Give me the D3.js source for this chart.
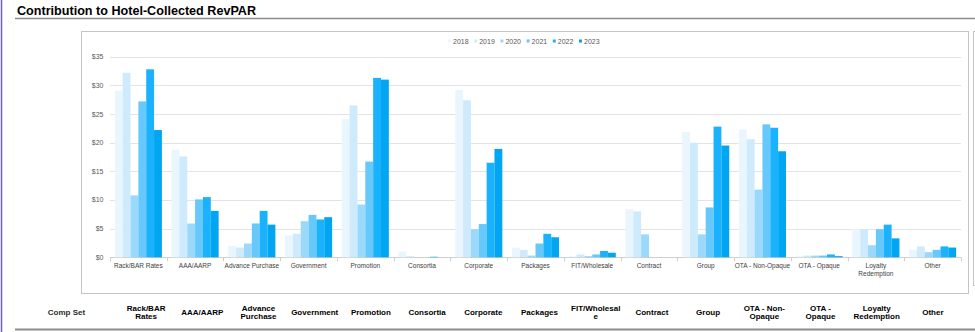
<!DOCTYPE html>
<html>
<head>
<meta charset="utf-8">
<script src="https://cdn.jsdelivr.net/npm/d3@7"></script>
<style>
  body { margin: 0; background: #fff; }
  svg { display: block; font-family: Arial, "Liberation Sans", sans-serif; }
</style>
</head>
<body>
<svg id="chart" width="975" height="332"></svg>
<script>
// Chart data
const categories = ['Rack/BAR Rates', 'AAA/AARP', 'Advance Purchase', 'Government', 'Promotion',
    'Consortia', 'Corporate', 'Packages', 'FIT/Wholesale', 'Contract', 'Group',
    'OTA - Non-Opaque', 'OTA - Opaque', 'Loyalty Redemption', 'Other'];
const years = ['2018', '2019', '2020', '2021', '2022', '2023'];

const v2018 = [29.1, 18.8, 2.0, 3.8, 24.1, 1.0, 29.2, 1.7, 0.2, 8.4, 21.9, 22.3, 0.2, 4.9, 1.3];
const v2019 = [32.2, 17.6, 1.7, 4.1, 26.5, 0.2, 27.4, 1.3, 0.5, 8.0, 20.0, 20.6, 0.3, 4.9, 1.9];
const v2020 = [10.8, 5.9, 2.4, 6.3, 9.2, 0.0, 4.9, 0.3, 0.2, 4.0, 4.0, 11.8, 0.3, 2.1, 0.9];
const v2021 = [27.2, 10.1, 5.9, 7.4, 16.7, 0.0, 5.8, 2.4, 0.5, 0.0, 8.7, 23.2, 0.3, 4.9, 1.3];
const v2022 = [32.8, 10.5, 8.1, 6.6, 31.3, 0.1, 16.5, 4.1, 1.1, 0.0, 22.8, 22.6, 0.5, 5.7, 1.9];
const v2023 = [22.2, 8.1, 5.7, 7.0, 31.0, 0.0, 18.9, 3.5, 0.8, 0.0, 19.5, 18.5, 0.2, 3.3, 1.7];
const series = [v2018, v2019, v2020, v2021, v2022, v2023];

const yTicks = [0, 5, 10, 15, 20, 25, 30, 35];
const colors = ['#eaf6fe', '#cdebfd', '#9ad8fc', '#67c8fc', '#1ab2fc', '#00a6f2'];

// Header row labels of the table under the chart
const tableLabels = [['Rack/BAR', 'Rates'], ['AAA/AARP'], ['Advance', 'Purchase'], ['Government'],
    ['Promotion'], ['Consortia'], ['Corporate'], ['Packages'], ['FIT/Wholesal', 'e'], ['Contract'],
    ['Group'], ['OTA - Non-', 'Opaque'], ['OTA -', 'Opaque'], ['Loyalty', 'Redemption'], ['Other']];

const svg = d3.select('#chart');

// Page frame
svg.append('line').attr('x1', 1.5).attr('x2', 1.5).attr('y1', 0).attr('y2', 332)
    .attr('stroke', '#6d61c0').attr('stroke-width', 1.5);

svg.append('text')
    .attr('x', 17).attr('y', 14.5)
    .attr('font-size', 12.6).attr('font-weight', 'bold').attr('fill', '#000')
    .text('Contribution to Hotel-Collected RevPAR');

svg.append('line').attr('x1', 15).attr('x2', 975).attr('y1', 18.5).attr('y2', 18.5)
    .attr('stroke', '#8c8c8c').attr('stroke-width', 1.5);

// Chart box
svg.append('rect').attr('x', 81.5).attr('y', 31.5).attr('width', 887).attr('height', 262)
    .attr('fill', '#fff').attr('stroke', '#c4c4c4');
svg.append('rect').attr('x', 973.5).attr('y', 31.5).attr('width', 10).attr('height', 254)
    .attr('fill', '#fff').attr('stroke', '#c4c4c4');

const plotLeft = 110, plotRight = 961, plotTop = 56.7, plotBottom = 257.3;

const y = d3.scaleLinear().domain([0, 35]).range([plotBottom, plotTop]);
const x0 = d3.scaleBand().domain(categories).range([plotLeft, plotRight])
    .paddingInner(0.17).paddingOuter(0.085);
const x1 = d3.scaleBand().domain(years).range([0, x0.bandwidth()]);

// Gridlines and y labels
svg.append('g').selectAll('line').data(yTicks).join('line')
    .attr('x1', plotLeft).attr('x2', plotRight)
    .attr('y1', d => Math.round(y(d)) + 0.5).attr('y2', d => Math.round(y(d)) + 0.5)
    .attr('stroke', d => d === 0 ? '#cfcfcf' : '#e3e3e3');

svg.append('g').selectAll('text').data(yTicks).join('text')
    .attr('x', 103.5).attr('y', d => y(d) + 2.5)
    .attr('text-anchor', 'end').attr('font-size', 7).attr('fill', '#595959')
    .text(d => '$' + d);

// Category boundary ticks
const step = x0.step();
svg.append('g').selectAll('line').data(d3.range(categories.length + 1)).join('line')
    .attr('x1', i => Math.round(plotLeft + i * step) + 0.5)
    .attr('x2', i => Math.round(plotLeft + i * step) + 0.5)
    .attr('y1', plotBottom).attr('y2', plotBottom + 4)
    .attr('stroke', '#cfcfcf');

// Bars
const groups = svg.append('g').selectAll('g').data(categories).join('g')
    .attr('transform', c => `translate(${x0(c)},0)`);

groups.selectAll('rect')
    .data((c, ci) => years.map((yr, si) => ({ yr, si, v: series[si][ci] })))
    .join('rect')
    .attr('x', d => x1(d.yr))
    .attr('y', d => y(d.v))
    .attr('width', x1.bandwidth())
    .attr('height', d => plotBottom - y(d.v))
    .attr('fill', d => colors[d.si]);

// Category labels
const catLabels = svg.append('g').selectAll('text').data(categories).join('text')
    .attr('x', c => x0(c) + x0.bandwidth() / 2)
    .attr('y', 267.5)
    .attr('text-anchor', 'middle').attr('font-size', 6.5).attr('fill', '#404040');
catLabels.each(function (c) {
    const t = d3.select(this);
    const lines = c === 'Loyalty Redemption' ? ['Loyalty', 'Redemption'] : [c];
    lines.forEach((l, i) => {
        t.append('tspan').attr('x', x0(c) + x0.bandwidth() / 2).attr('dy', i ? 8 : 0).text(l);
    });
});

// Legend
const legend = svg.append('g').selectAll('g').data(years).join('g')
    .attr('transform', (d, i) => `translate(${448 + i * 26.2},41)`);
legend.append('rect').attr('x', 0).attr('y', -1.5).attr('width', 3).attr('height', 3)
    .attr('fill', (d, i) => colors[i]);
legend.append('text').attr('x', 5).attr('y', 2.5)
    .attr('font-size', 7).attr('fill', '#595959').text(d => d);

// Table header under the chart
svg.append('text').attr('x', 66.5).attr('y', 315)
    .attr('text-anchor', 'middle').attr('font-size', 8).attr('font-weight', 'bold')
    .attr('fill', '#2e2e2e').text('Comp Set');

const xt = d3.scaleBand().domain(categories).range([118, 961]);
const tableText = svg.append('g').selectAll('text').data(categories).join('text')
    .attr('text-anchor', 'middle').attr('font-size', 8).attr('font-weight', 'bold')
    .attr('fill', '#000');
tableText.each(function (c, i) {
    const t = d3.select(this);
    const lines = tableLabels[i];
    const cx = xt(c) + xt.bandwidth() / 2;
    t.attr('y', lines.length > 1 ? 310.5 : 315);
    lines.forEach((l, j) => {
        t.append('tspan').attr('x', cx).attr('dy', j ? 8.5 : 0).text(l);
    });
});

svg.append('line').attr('x1', 15).attr('x2', 975).attr('y1', 329.5).attr('y2', 329.5)
    .attr('stroke', '#8c8c8c').attr('stroke-width', 2);
</script>
</body>
</html>
